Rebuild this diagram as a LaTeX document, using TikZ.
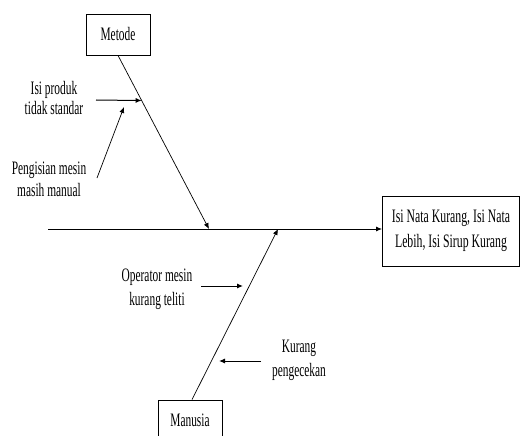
\documentclass[tikz,border=0pt]{standalone}
\usepackage{fontspec}
\setmainfont{Liberation Serif}[FakeStretch=0.6]
\newfontfamily\efffont{Liberation Serif}[FakeStretch=0.62]
\usetikzlibrary{positioning,calc,arrows.meta}
\tikzset{
  >={Latex[length=6pt,width=5pt]},
  bone/.style={line width=0.7pt},
  spine/.style={line width=1pt},
  causearrow/.style={->,line width=1pt},
  cause/.style={align=center,inner sep=0pt,font=\fontsize{19}{24}\selectfont},
  catbox/.style={draw,line width=0.8pt,minimum width=64pt,minimum height=41pt,
    font=\fontsize{19}{24}\selectfont},
  effbox/.style={draw,line width=0.8pt,minimum width=137pt,minimum height=70pt,
    align=center,font=\efffont\fontsize{19}{25}\selectfont}
}

\begin{document}
\begin{tikzpicture}[x=1pt,y=-1pt]
  \useasboundingbox (0,0) rectangle (520,436);

  \node [catbox] (met) at (118,34.5) {Metode};
  \node [catbox] (man) at (190,420.5) {Manusia};
  \node [effbox] (eff) at (451,231) {Isi Nata Kurang, Isi Nata\\Lebih, Isi Sirup Kurang};

  \coordinate (tail) at (48,229);
  \coordinate (mhit) at (209,229);
  \coordinate (nhit) at (278,229);

  \draw[->,spine] (tail) -- (tail -| eff.west);
  \draw[->,bone] (met.south) -- (mhit);
  \draw[->,bone] ([xshift=2pt]man.north) -- (nhit);

  % sebab
  \node [cause,font=\fontsize{19}{20}\selectfont] (c1) at (54,98) {Isi produk\\tidak standar};
  \node [cause,font=\fontsize{19}{22}\selectfont] (c2) at (49,179) {Pengisian mesin\\masih manual};
  \node [cause] (c3) at (157,289.5) {Operator mesin\\kurang teliti};
  \node [cause] (c4) at (299,360.5) {Kurang\\pengecekan};

  \coordinate (a1) at (96,100);
  \coordinate (b1) at ($(met.south)!0.26!(mhit)$);
  \coordinate (a2) at (97,178);
  \coordinate (b2) at (124,107);
  \coordinate (a3) at (201,286);
  \coordinate (b3) at (243,286);
  \coordinate (a4) at (261,361);
  \coordinate (b4) at (219,361);

  \draw[causearrow] (a1) -- (b1);
  \draw[causearrow,line width=0.7pt] (a2) -- (b2);
  \draw[causearrow] (a3) -- (b3);
  \draw[causearrow] (a4) -- (b4);

\end{tikzpicture}
\end{document}
